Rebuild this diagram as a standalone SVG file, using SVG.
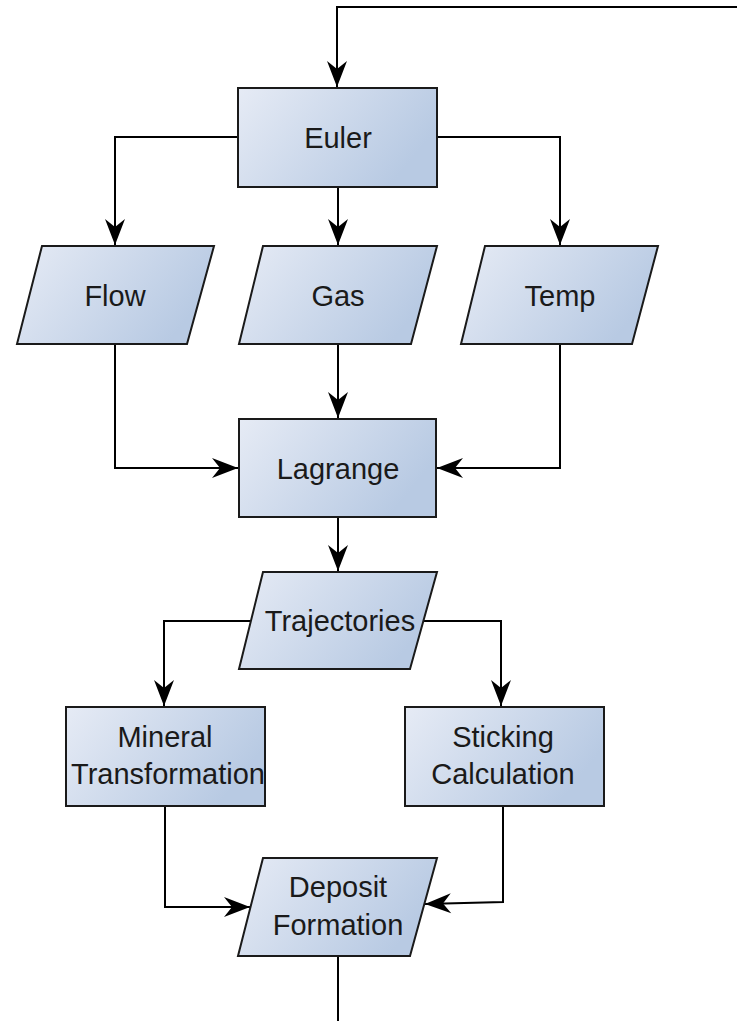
<svg xmlns="http://www.w3.org/2000/svg" width="737" height="1021" viewBox="0 0 737 1021">
<style>
.n{stroke:#1a1a1a;stroke-width:2;fill:url(#g)}
.t{font-family:"Liberation Sans",Arial,sans-serif;font-size:29px;fill:#1a1a1a;text-anchor:middle}
.c{fill:none;stroke:#000;stroke-width:2;marker-end:url(#a)}
.c2{fill:none;stroke:#000;stroke-width:2}
</style>
<defs>
<linearGradient id="g" x1="0" y1="0" x2="1" y2="0.4">
<stop offset="0" stop-color="#e6ebf5"/>
<stop offset="1" stop-color="#b8cae3"/>
</linearGradient>
<marker id="a" viewBox="-28 -12 29 24" refX="0" refY="0" markerUnits="userSpaceOnUse" markerWidth="29" markerHeight="24" orient="auto">
<path d="M0,0 L-26,-10 L-18,0 L-26,10 Z" fill="#000"/>
</marker>
</defs>
<g id="connectors">
<path class="c" d="M737,7 H337 V87"/>
<path class="c" d="M238,137 H115 V245"/>
<path class="c" d="M338,187 V245"/>
<path class="c" d="M437,137 H560 V245"/>
<path class="c" d="M115,344 V468 H238"/>
<path class="c" d="M338,344 V418"/>
<path class="c" d="M560,344 V468 H437"/>
<path class="c" d="M338,517 V571"/>
<path class="c" d="M251,621 H164 V706"/>
<path class="c" d="M424,621 H501 V706"/>
<path class="c" d="M165,806 V907 H250"/>
<path class="c" d="M503,806 V902 L425,904"/>
<path class="c2" d="M338,956 V1021"/>
</g>
<g id="euler"><rect class="n" x="238" y="88" width="199" height="99"/><text class="t" x="338" y="148">Euler</text></g>
<g id="flow"><polygon class="n" points="42,246 214,246 187,344 17,344"/><text class="t" x="115" y="306">Flow</text></g>
<g id="gas"><polygon class="n" points="263,246 437,246 411,344 239,344"/><text class="t" x="338" y="306">Gas</text></g>
<g id="temp"><polygon class="n" points="485,246 658,246 632,344 461,344"/><text class="t" x="560" y="306">Temp</text></g>
<g id="lagrange"><rect class="n" x="239" y="419" width="197" height="98"/><text class="t" x="338" y="479">Lagrange</text></g>
<g id="trajectories"><polygon class="n" points="263,572 437,572 410,669 239,669"/><text class="t" x="340" y="631">Trajectories</text></g>
<g id="mineral"><rect class="n" x="66" y="707" width="199" height="99"/><text class="t" x="165" y="747">Mineral</text><text class="t" x="168" y="784">Transformation</text></g>
<g id="sticking"><rect class="n" x="405" y="707" width="199" height="99"/><text class="t" x="503" y="747">Sticking</text><text class="t" x="503" y="784">Calculation</text></g>
<g id="deposit"><polygon class="n" points="263,858 437,858 410,956 238,956"/><text class="t" x="338" y="897">Deposit</text><text class="t" x="338" y="935">Formation</text></g>
</svg>
